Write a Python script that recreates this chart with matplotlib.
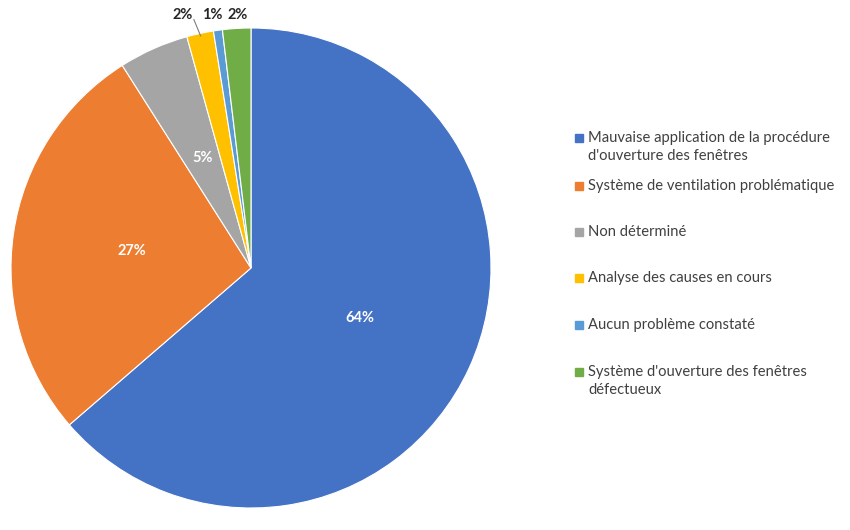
import numpy as np
import matplotlib.pyplot as plt
from matplotlib.patches import Rectangle

labels = [
    "Mauvaise application de la procédure\nd'ouverture des fenêtres",
    "Système de ventilation problématique",
    "Non déterminé",
    "Analyse des causes en cours",
    "Aucun problème constaté",
    "Système d'ouverture des fenêtres\ndéfectueux",
]
values = [63.6, 27.3, 4.7, 1.8, 0.6, 1.9]
pct_labels = ["64%", "27%", "5%", "2%", "1%", "2%"]
colors = ["#4472C4", "#ED7D31", "#A5A5A5", "#FFC000", "#5B9BD5", "#70AD47"]

plt.rcParams['font.family'] = ['Lato', 'DejaVu Sans']

fig = plt.figure(figsize=(8.5, 5.3), dpi=100)
ax = fig.add_axes([11 / 850, 22 / 530, 480 / 850, 480 / 530])
wedges, _ = ax.pie(values, colors=colors, startangle=90, counterclock=False,
                   wedgeprops=dict(edgecolor='white', linewidth=0.8))
ax.set_xlim(-1, 1)
ax.set_ylim(-1, 1)
ax.set_aspect('equal')
ax.axis('off')

for w, txt, v in zip(wedges, pct_labels, values):
    mid = np.deg2rad((w.theta1 + w.theta2) / 2)
    if v >= 3:
        ax.text(0.5 * np.cos(mid), 0.5 * np.sin(mid), txt, color='white',
                fontsize=10.5, fontweight='bold', ha='center', va='center')

# small slices: labels outside, above the pie
outside_x = [-0.283, -0.160, -0.056]
for i, x in zip([3, 4, 5], outside_x):
    ax.text(x, 1.053, pct_labels[i], color='#262626', fontsize=10.5,
            fontweight='bold', ha='center', va='center', clip_on=False)
# leader line for the yellow slice
w = wedges[3]
mid = np.deg2rad((w.theta1 + w.theta2) / 2)
ax.plot([-0.238, 0.99 * np.cos(mid)], [1.035, 0.99 * np.sin(mid)],
        color='#7f7f7f', lw=0.8, clip_on=False)

# legend drawn by hand
rows_y = [147, 186, 232, 278, 325, 381]
for lab, c, y in zip(labels, colors, rows_y):
    fig.patches.append(Rectangle((575 / 850, 1 - (y + 4 - (9.5 if '\n' in lab else 0)) / 530),
                                 8 / 850, 8 / 530, transform=fig.transFigure,
                                 color=c))
    fig.text(588 / 850, 1 - y / 530, lab, fontsize=10.6, color='#404040',
             ha='left', va='center', linespacing=1.45)

fig.savefig('out.png', dpi=100)
